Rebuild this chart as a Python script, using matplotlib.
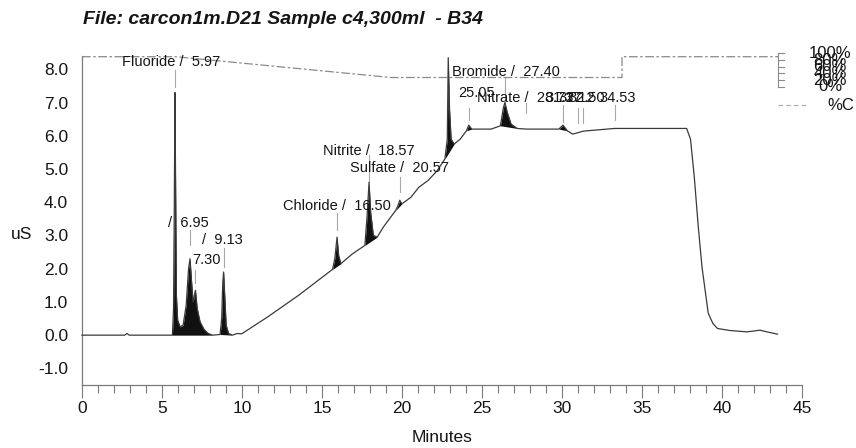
#!/usr/bin/env python
"""Ion chromatogram: carcon1m.D21, sample c4, 300 ml"""

import matplotlib
matplotlib.use('Agg')
import matplotlib.pyplot as plt
import numpy as np

plt.rcParams['font.family'] = ['Liberation Sans', 'DejaVu Sans']

# --- detector trace (axis minutes, uS) ---
time_min = [0.0, 2.66, 2.81, 2.95, 5.65, 5.72, 5.77, 5.81, 5.85, 5.90, 5.98, 6.13,
            6.32, 6.51, 6.66, 6.75, 6.85, 6.94, 7.09, 7.20, 7.38, 7.62, 7.86, 8.15,
            8.63, 8.73, 8.80, 8.85, 8.92, 9.01, 9.16, 9.40, 9.69, 9.98, 11.61, 13.54,
            15.66, 15.80, 15.94, 16.04, 16.18, 16.91, 17.68, 17.82, 17.94, 18.04, 18.21,
            18.45, 18.83, 19.60, 19.75, 19.86, 19.99, 20.56, 21.05, 21.62, 22.20, 22.68,
            22.83, 22.89, 22.97, 23.07, 23.26, 23.64, 24.03, 24.17, 24.36, 25.57, 26.15,
            26.34, 26.43, 26.58, 26.82, 27.20, 27.78, 29.80, 30.06, 30.33, 30.67, 31.05,
            31.34, 32.31, 33.30, 37.79, 38.03, 38.27, 38.51, 38.75, 39.14, 39.43, 39.72,
            40.49, 41.55, 41.93, 42.37, 42.80, 43.47]
signal_us = [0.00, 0.00, 0.05, 0.00, 0.00, 0.8, 4.0, 7.30, 4.5, 1.2, 0.45, 0.25,
             0.30, 0.9, 2.0, 2.30, 1.6, 1.0, 1.35, 0.8, 0.40, 0.18, 0.06, 0.00,
             0.02, 0.5, 1.6, 1.90, 1.2, 0.3, 0.05, 0.00, 0.05, 0.04, 0.55, 1.20,
             1.98, 2.3, 2.95, 2.4, 2.15, 2.45, 2.70, 3.6, 4.60, 3.7, 3.0,
             2.95, 3.25, 3.75, 3.9, 4.06, 3.95, 4.15, 4.45, 4.65, 4.95, 5.30,
             5.9, 8.35, 6.8, 5.9, 5.75, 5.9, 6.15, 6.32, 6.2, 6.20, 6.3,
             6.85, 7.00, 6.7, 6.35, 6.22, 6.20, 6.20, 6.32, 6.15, 6.05, 6.10,
             6.14, 6.18, 6.22, 6.22, 5.9, 4.75, 3.3, 2.05, 0.66, 0.35, 0.20,
             0.14, 0.10, 0.12, 0.15, 0.10, 0.03]

# integrated (shaded) peak windows, minutes
peak_windows = [(5.65, 8.15), (8.63, 9.40), (15.66, 16.18), (17.68, 18.45), (19.60, 19.99),
                (22.68, 23.26), (24.03, 24.36), (26.15, 27.20), (29.80, 30.33)]

# eluent gradient (%C)
grad_time = [0.0, 5.84, 19.31, 33.75, 33.75, 43.5]
grad_pct = [90, 90, 28, 28, 90, 90]
grad_scale_pct = [100, 80, 60, 40, 20, 0]

# peak labels (name / retention time) and where each peak sits on the axis
peak_labels = ['Fluoride /  5.97', '/  6.95', '7.30', '/  9.13', 'Chloride /  16.50',
               'Nitrite /  18.57', 'Sulfate /  20.57', '25.05', 'Bromide /  27.40',
               'Nitrate /  28.73', '31.17', '32.12', '32.50', '34.53']
peak_pos = [5.81, 6.75, 7.09, 8.85, 15.94, 17.94, 19.86, 24.17, 26.43, 27.72,
            30.06, 30.98, 31.34, 33.30]

# layout: label left edge (min) / centre (uS), marker line top / bottom (uS)
label_x = [2.50, 5.38, 6.88, 7.50, 12.57, 15.06, 16.75, 23.50, 23.12, 24.68,
           28.94, 29.75, 30.38, 32.37]
label_y = [8.22, 3.37, 2.26, 2.86, 3.88, 5.53, 5.02, 7.28, 7.91, 7.13,
           7.13, 7.13, 7.13, 7.13]
mark_top = [7.97, 3.16, 1.95, 2.62, 3.67, 5.41, 4.75, 6.83, 7.73, 6.98, 6.92, 6.83, 6.83, 6.92]
mark_bot = [7.46, 2.71, 1.56, 2.05, 3.16, 4.60, 4.30, 6.47, 7.00, 6.68, 6.40, 6.38, 6.38, 6.47]

TRACE = '#3a3a3a'
GREY = '#8a8a8a'
LIGHT = '#a8a8a8'
TEXT = '#151515'

fig = plt.figure(figsize=(8.56, 4.48), dpi=100)
ax = fig.add_axes([82 / 856, 63 / 448, 720 / 856, 329 / 448])

t = np.array(time_min)
s = np.array(signal_us)

# shaded peaks
for a, b in peak_windows:
    m = (t >= a - 1e-9) & (t <= b + 1e-9)
    tt, ss = t[m], s[m]
    base = np.interp(tt, [tt[0], tt[-1]], [ss[0], ss[-1]])
    ax.fill_between(tt, base, ss, color='#111111', lw=0, zorder=2)

ax.plot(t, s, color=TRACE, lw=0.9, zorder=3, clip_on=False)

# gradient trace mapped onto the top strip of the plot
g0, gspan = 7.47, 1.01
gy = g0 + np.array(grad_pct) / 100 * gspan
ax.plot(grad_time, gy, color=GREY, lw=0.9, ls=(0, (7, 2, 2, 2)), zorder=1, clip_on=False)

# gradient scale bracket
sy = g0 + np.array(grad_scale_pct) / 100 * gspan
ax.plot([43.5, 43.5], [sy.min(), sy.max()], color=GREY, lw=0.8, clip_on=False)
for yv, p in zip(sy, grad_scale_pct):
    ax.plot([43.5, 43.85], [yv, yv], color=GREY, lw=0.8, clip_on=False)
    ax.text(46.75, yv, f'{p}%', ha='center', va='center', fontsize=12,
            color=TEXT, clip_on=False)
ax.plot([43.5, 45.3], [6.92, 6.92], color=LIGHT, lw=0.8, ls=(0, (4, 3)), clip_on=False)
ax.text(46.6, 6.92, '%C', ha='left', va='center', fontsize=12, color=TEXT, clip_on=False)

# peak labels
for lab, px, lx, ly, mt, mb in zip(peak_labels, peak_pos, label_x, label_y, mark_top, mark_bot):
    ax.plot([px, px], [mb, mt], color=LIGHT, lw=0.8, zorder=1)
    ax.text(lx, ly, lab, ha='left', va='center', fontsize=10.5, color=TEXT, zorder=4)

ax.set_xlim(0, 45)
ax.set_ylim(-1.5, 8.4)
ax.set_xticks(np.arange(0, 46, 5))
ax.set_xticks(np.arange(0, 46, 1), minor=True)
ax.set_yticks(np.arange(-1, 9, 1))
ax.set_yticklabels([f'{v:.1f}' for v in np.arange(-1, 9, 1)])

for side in ['top', 'right']:
    ax.spines[side].set_visible(False)
for side in ['left', 'bottom']:
    ax.spines[side].set_color('#7a7a7a')
    ax.spines[side].set_linewidth(0.9)

ax.tick_params(axis='x', which='major', length=9.5, width=0.8, color='#7a7a7a',
               labelsize=12.5, pad=2, labelcolor=TEXT)
ax.tick_params(axis='x', which='minor', length=5.8, width=0.8, color='#7a7a7a')
ax.tick_params(axis='y', length=0, labelsize=12.5, pad=10, labelcolor=TEXT)

ax.set_ylabel('uS', rotation=0, fontsize=12.5, color=TEXT, va='center', ha='center')
ax.yaxis.set_label_coords(-0.0833, 0.456)
ax.set_xlabel('Minutes', fontsize=12.5, color=TEXT, va='center')
ax.xaxis.set_label_coords(0.5, -0.161)

fig.text(83 / 856, 1 - 20 / 448, 'File: carcon1m.D21 Sample c4,300ml  - B34',
         ha='left', va='center', fontsize=14, fontweight='bold', style='italic', color=TEXT)

plt.savefig('out.png', dpi=100, facecolor='white')
plt.close()
